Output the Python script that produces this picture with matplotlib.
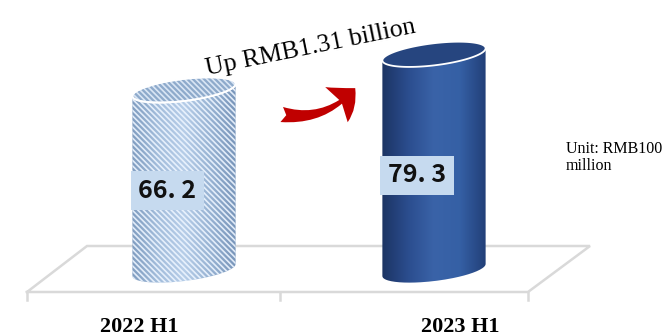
import numpy as np
import matplotlib
matplotlib.use("Agg")
import matplotlib.pyplot as plt
from matplotlib.path import Path
from matplotlib.patches import PathPatch, Polygon, FancyArrowPatch
from matplotlib.colors import LinearSegmentedColormap

# revenue, RMB 100 million
periods = ["2022 H1", "2023 H1"]
revenue = [66.2, 79.3]
increase_note = "Up RMB1.31 billion"
unit_note = "Unit: RMB100\nmillion"

plt.rcParams["hatch.linewidth"] = 1.2

W, H = 670, 336
fig = plt.figure(figsize=(W / 100, H / 100), dpi=100)
ax = fig.add_axes([0, 0, 1, 1])

# px per category step / px per value unit, baseline sits 270 px from the top
SX, SY = 250.0, 2.72
ax.set_xlim(-184 / SX, (W - 184) / SX)
ax.set_ylim(-(H - 270) / SY, 270 / SY)
ax.axis("off")

# floor of the 3d plot area
floor_c = "#d9d9d9"
fx = np.array([27, 528, 590, 87, 27])
fy = np.array([292, 292, 246, 246, 292])
ax.plot((fx - 184) / SX, (270 - fy) / SY, color=floor_c, lw=1.8, zorder=1,
        solid_joinstyle="miter")
for tx in [27, 280, 528]:
    ax.plot([(tx - 184) / SX] * 2, [(270 - 292) / SY, (270 - 300) / SY],
            color=floor_c, lw=1.8, zorder=1)

# cylinder geometry (px)
A, B, TILT = 52.0, 11.0, np.deg2rad(7)


def ellipse(cx, cy, t):
    dx = A * np.cos(t) * np.cos(TILT) - B * np.sin(t) * np.sin(TILT)
    dy = A * np.cos(t) * np.sin(TILT) + B * np.sin(t) * np.cos(TILT)
    return cx + dx / SX, cy + dy / SY


t0 = np.arctan(-(B / A) * np.tan(TILT))

light_cmap = LinearSegmentedColormap.from_list(
    "light", ["#809dc0", "#a3bddb", "#b6cde8", "#98b3d3", "#7895b9"])
dark_cmap = LinearSegmentedColormap.from_list(
    "dark", ["#1c3463", "#2b4d8e", "#3a63a8", "#3560a5", "#223f78"])

styles = [
    dict(cmap=light_cmap, top="#8eaacb", hatch=True),
    dict(cmap=dark_cmap, top="#26457f", hatch=False),
]
HATCH = "\\" * 6

for i, (v, st) in enumerate(zip(revenue, styles)):
    tb = np.linspace(t0 + np.pi, t0 + 2 * np.pi, 80)
    tt = np.linspace(t0, t0 + np.pi, 80)
    bx, by = ellipse(i, 0, tb)
    ux, uy = ellipse(i, v, tt)
    body = Path(np.column_stack([np.r_[bx, ux], np.r_[by, uy]]), closed=False)
    clip = PathPatch(body, fc="none", lw=0, zorder=2)
    ax.add_patch(clip)
    img = ax.imshow(np.linspace(0, 1, 256)[None, :], cmap=st["cmap"],
                    aspect="auto", interpolation="bilinear", zorder=2,
                    extent=[i - A / SX, i + A / SX, -2 * B / SY, v + 2 * B / SY])
    img.set_clip_path(clip)
    if st["hatch"]:
        ax.add_patch(PathPatch(body, fc="none", ec=(0.93, 0.96, 1.0, 0.9),
                               lw=0, hatch=HATCH, zorder=3))

    ta = np.linspace(0, 2 * np.pi, 120)
    ex, ey = ellipse(i, v, ta)
    ax.add_patch(Polygon(np.column_stack([ex, ey]), closed=True,
                         fc=st["top"], ec="white", lw=1.3, zorder=4))
    if st["hatch"]:
        ax.add_patch(Polygon(np.column_stack([ex, ey]), closed=True,
                             fc="none", ec=(0.93, 0.96, 1.0, 0.8), lw=0,
                             hatch=HATCH, zorder=5))
        ax.add_patch(Polygon(np.column_stack([ex, ey]), closed=True,
                             fc="none", ec="white", lw=1.3, zorder=5))

    ax.text(i - 0.068, v * 0.44, f"{v:.1f}".replace(".", ". "),
            ha="center", va="center", fontsize=18, fontweight="bold",
            color="#111111", family=["Noto Sans CJK SC", "DejaVu Sans"],
            zorder=6,
            bbox=dict(boxstyle="square,pad=0.3", fc="#c6daef", ec="none"))

# category labels
for x, lab in zip([-0.18, 1.104], periods):
    ax.text(x, (270 - 332) / SY, lab, ha="center", va="baseline",
            fontsize=16, fontweight="bold", family="Liberation Serif")

# change annotation
fig.text(207 / W, (H - 75) / H, increase_note, rotation=11.5,
         rotation_mode="anchor", ha="left", va="baseline",
         fontsize=18.5, family="Liberation Serif")
arrow = FancyArrowPatch(((279 - 184) / SX, (270 - 114) / SY),
                        ((357 - 184) / SX, (270 - 86) / SY),
                        connectionstyle="arc3,rad=0.3",
                        arrowstyle="fancy,head_length=1.8,head_width=3.0,tail_width=1.1",
                        mutation_scale=10, color="#c00000", lw=0, zorder=6)
ax.add_patch(arrow)

fig.text(566 / W, (H - 170) / H, unit_note, ha="left", va="baseline",
         fontsize=11.5, family="Liberation Serif", linespacing=1.1)

fig.savefig("out.png", dpi=100, facecolor="white")
